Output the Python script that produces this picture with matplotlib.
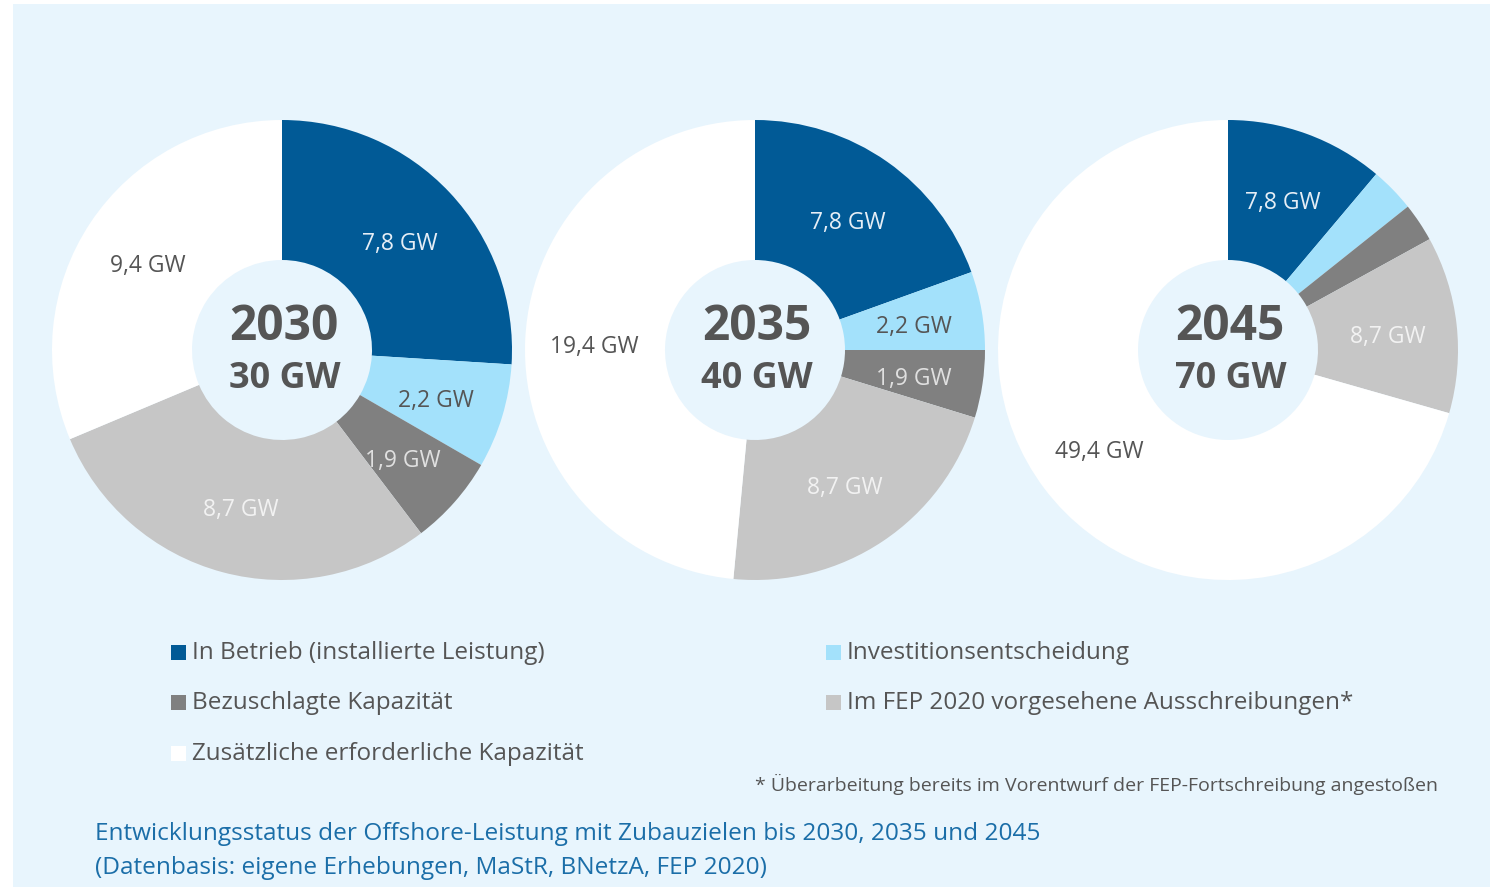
import matplotlib
matplotlib.use("Agg")
import matplotlib.pyplot as plt
from matplotlib.patches import Rectangle
import numpy as np

# Data (GW)
years = ["2030", "2035", "2045"]
totals = ["30 GW", "40 GW", "70 GW"]
categories = ["In Betrieb (installierte Leistung)", "Investitionsentscheidung",
              "Bezuschlagte Kapazität", "Im FEP 2020 vorgesehene Ausschreibungen*",
              "Zusätzliche erforderliche Kapazität"]
in_betrieb = [7.8, 7.8, 7.8]
investition = [2.2, 2.2, 2.2]
bezuschlagt = [1.9, 1.9, 1.9]
fep2020 = [8.7, 8.7, 8.7]
zusaetzlich = [9.4, 19.4, 49.4]
# which wedge labels are printed for each year
show_labels = [[True] * 5, [True] * 5, [True, False, False, True, True]]

colors = ["#015a96", "#a3e1fb", "#808080", "#c6c6c6", "#ffffff"]
label_colors = ["#e6eef6", "#555555", "#e0e0e0", "#f2f2f2", "#555555"]
panel_color = "#e8f5fd"
text_color = "#555555"
caption_color = "#1b6ea8"

plt.rcParams["font.family"] = ["Open Sans", "DejaVu Sans"]

W, H = 1496, 891
fig = plt.figure(figsize=(W / 100, H / 100), dpi=100)
fig.patch.set_facecolor("white")


def fx(px):
    return px / W


def fy(py):
    return 1 - py / H


# light blue panel (behind the axes)
fig.patches.append(Rectangle((fx(13), fy(887)), fx(1490) - fx(13), fy(4) - fy(887),
                             transform=fig.transFigure, facecolor=panel_color,
                             edgecolor="none", zorder=-5))

centers = [(282, 350), (755, 350), (1228, 350)]
R = 230
R_in = 90

for i, (cx, cy) in enumerate(centers):
    ax = fig.add_axes([fx(cx - R), fy(cy + R), 2 * R / W, 2 * R / H])
    ax.set_facecolor("none")
    vals = [in_betrieb[i], investition[i], bezuschlagt[i], fep2020[i], zusaetzlich[i]]
    wedges, _ = ax.pie(vals, colors=colors, startangle=90, counterclock=False,
                       radius=1, wedgeprops=dict(width=(R - R_in) / R, linewidth=0))
    ax.set_xlim(-1, 1)
    ax.set_ylim(-1, 1)
    ax.set_aspect("equal")
    ax.axis("off")
    for j, w in enumerate(wedges):
        if not show_labels[i][j]:
            continue
        mid = np.deg2rad((w.theta1 + w.theta2) / 2)
        r = 0.70
        ax.text(r * np.cos(mid), r * np.sin(mid) - 0.02,
                f"{vals[j]:.1f}".replace(".", ",") + " GW",
                ha="center", va="center", fontsize=16.5, color=label_colors[j])
    ax.text(0.01, 0.10, years[i], ha="center", va="center", fontsize=34.5,
            fontweight="bold", color=text_color)
    ax.text(0.01, -0.125, totals[i], ha="center", va="center", fontsize=26,
            fontweight="bold", color=text_color)

# legend
legend_pos = [(171, 653), (826, 653), (171, 703), (826, 703), (171, 754)]
for (lx, ly), lab, col in zip(legend_pos, categories, colors):
    fig.patches.append(Rectangle((fx(lx), fy(ly + 7)), 15 / W, 15 / H,
                                 transform=fig.transFigure, facecolor=col,
                                 edgecolor="none", zorder=2))
    fig.text(fx(lx + 21), fy(ly), lab, ha="left", va="center", fontsize=17.5,
             color=text_color)

fig.text(fx(1438), fy(784), "* Überarbeitung bereits im Vorentwurf der FEP-Fortschreibung angestoßen",
         ha="right", va="center", fontsize=14, color=text_color)

fig.text(fx(95), fy(834), "Entwicklungsstatus der Offshore-Leistung mit Zubauzielen bis 2030, 2035 und 2045",
         ha="left", va="center", fontsize=17.6, color=caption_color)
fig.text(fx(95), fy(868), "(Datenbasis: eigene Erhebungen, MaStR, BNetzA, FEP 2020)",
         ha="left", va="center", fontsize=17.6, color=caption_color)

fig.savefig("out.png", dpi=100, facecolor="white")
